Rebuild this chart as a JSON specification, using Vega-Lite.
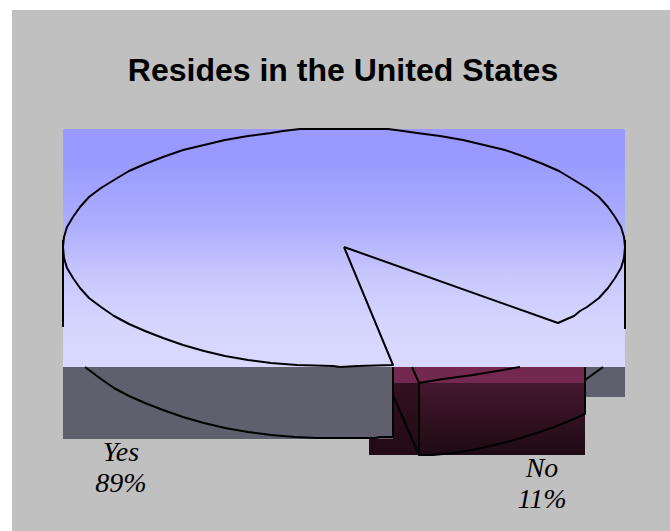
{
  "$schema": "https://vega.github.io/schema/vega-lite/v6.json",
  "width": 670,
  "height": 531,
  "padding": 0,
  "autosize": "none",
  "background": "#ffffff",
  "view": {"stroke": null},
  "title": {
    "text": "Resides in the United States",
    "font": "Liberation Sans",
    "fontSize": 32,
    "fontWeight": "bold",
    "color": "#000000",
    "anchor": "middle",
    "baseline": "alphabetic",
    "offset": -113,
    "dx": 8
  },
  "datasets": {
    "regions": [
      {"part": "panel", "x0": 12, "x1": 670, "y0": 10, "y1": 531},
      {"part": "plane", "x0": 63, "x1": 625, "y0": 129, "y1": 367},
      {"part": "wall", "x0": 63, "x1": 393, "y0": 367, "y1": 439},
      {"part": "wall", "x0": 585, "x1": 625, "y0": 367, "y1": 397},
      {"part": "rim", "x0": 393, "x1": 585, "y0": 367, "y1": 383},
      {"part": "side", "x0": 369, "x1": 419, "y0": 383, "y1": 455},
      {"part": "front", "x0": 419, "x1": 585, "y0": 383, "y1": 455}
    ],
    "outlines": [
      {"path": "top", "i": 1, "x": 344, "y": 247},
      {"path": "top", "i": 2, "x": 558, "y": 323},
      {"path": "top", "i": 3, "x": 567, "y": 319},
      {"path": "top", "i": 4, "x": 574, "y": 316},
      {"path": "top", "i": 5, "x": 580, "y": 311},
      {"path": "top", "i": 6, "x": 587, "y": 307},
      {"path": "top", "i": 7, "x": 599, "y": 298},
      {"path": "top", "i": 8, "x": 608, "y": 288},
      {"path": "top", "i": 9, "x": 615, "y": 278},
      {"path": "top", "i": 10, "x": 621, "y": 268},
      {"path": "top", "i": 11, "x": 624, "y": 258},
      {"path": "top", "i": 12, "x": 625, "y": 247},
      {"path": "top", "i": 13, "x": 624, "y": 237},
      {"path": "top", "i": 14, "x": 621, "y": 227},
      {"path": "top", "i": 15, "x": 615, "y": 217},
      {"path": "top", "i": 16, "x": 608, "y": 207},
      {"path": "top", "i": 17, "x": 599, "y": 197},
      {"path": "top", "i": 18, "x": 587, "y": 188},
      {"path": "top", "i": 19, "x": 574, "y": 180},
      {"path": "top", "i": 20, "x": 559, "y": 171},
      {"path": "top", "i": 21, "x": 543, "y": 164},
      {"path": "top", "i": 22, "x": 525, "y": 157},
      {"path": "top", "i": 23, "x": 505, "y": 150},
      {"path": "top", "i": 24, "x": 484, "y": 145},
      {"path": "top", "i": 25, "x": 463, "y": 140},
      {"path": "top", "i": 26, "x": 440, "y": 136},
      {"path": "top", "i": 27, "x": 417, "y": 133},
      {"path": "top", "i": 28, "x": 403, "y": 131},
      {"path": "top", "i": 29, "x": 388, "y": 129},
      {"path": "top", "i": 30, "x": 300, "y": 129},
      {"path": "top", "i": 31, "x": 283, "y": 131},
      {"path": "top", "i": 32, "x": 271, "y": 133},
      {"path": "top", "i": 33, "x": 248, "y": 136},
      {"path": "top", "i": 34, "x": 225, "y": 140},
      {"path": "top", "i": 35, "x": 204, "y": 145},
      {"path": "top", "i": 36, "x": 183, "y": 150},
      {"path": "top", "i": 37, "x": 163, "y": 157},
      {"path": "top", "i": 38, "x": 145, "y": 164},
      {"path": "top", "i": 39, "x": 129, "y": 171},
      {"path": "top", "i": 40, "x": 114, "y": 180},
      {"path": "top", "i": 41, "x": 101, "y": 188},
      {"path": "top", "i": 42, "x": 89, "y": 197},
      {"path": "top", "i": 43, "x": 80, "y": 207},
      {"path": "top", "i": 44, "x": 73, "y": 217},
      {"path": "top", "i": 45, "x": 67, "y": 227},
      {"path": "top", "i": 46, "x": 64, "y": 237},
      {"path": "top", "i": 47, "x": 63, "y": 247},
      {"path": "top", "i": 48, "x": 64, "y": 258},
      {"path": "top", "i": 49, "x": 67, "y": 268},
      {"path": "top", "i": 50, "x": 73, "y": 278},
      {"path": "top", "i": 51, "x": 80, "y": 288},
      {"path": "top", "i": 52, "x": 89, "y": 298},
      {"path": "top", "i": 53, "x": 101, "y": 307},
      {"path": "top", "i": 54, "x": 114, "y": 316},
      {"path": "top", "i": 55, "x": 129, "y": 324},
      {"path": "top", "i": 56, "x": 145, "y": 331},
      {"path": "top", "i": 57, "x": 163, "y": 338},
      {"path": "top", "i": 58, "x": 183, "y": 345},
      {"path": "top", "i": 59, "x": 204, "y": 351},
      {"path": "top", "i": 60, "x": 225, "y": 356},
      {"path": "top", "i": 61, "x": 248, "y": 360},
      {"path": "top", "i": 62, "x": 271, "y": 363},
      {"path": "top", "i": 63, "x": 297, "y": 365},
      {"path": "top", "i": 64, "x": 333, "y": 366},
      {"path": "top", "i": 65, "x": 340, "y": 367},
      {"path": "top", "i": 66, "x": 358, "y": 366},
      {"path": "top", "i": 67, "x": 393, "y": 365},
      {"path": "top", "i": 68, "x": 344, "y": 247},
      {"path": "base", "i": 1, "x": 85, "y": 367},
      {"path": "base", "i": 2, "x": 101, "y": 379},
      {"path": "base", "i": 3, "x": 114, "y": 388},
      {"path": "base", "i": 4, "x": 129, "y": 396},
      {"path": "base", "i": 5, "x": 145, "y": 403},
      {"path": "base", "i": 6, "x": 163, "y": 410},
      {"path": "base", "i": 7, "x": 183, "y": 417},
      {"path": "base", "i": 8, "x": 204, "y": 423},
      {"path": "base", "i": 9, "x": 225, "y": 428},
      {"path": "base", "i": 10, "x": 248, "y": 432},
      {"path": "base", "i": 11, "x": 271, "y": 435},
      {"path": "base", "i": 12, "x": 295, "y": 437},
      {"path": "base", "i": 13, "x": 317, "y": 438},
      {"path": "base", "i": 14, "x": 375, "y": 438},
      {"path": "base", "i": 15, "x": 380, "y": 437},
      {"path": "base", "i": 16, "x": 393, "y": 437},
      {"path": "base", "i": 17, "x": 393, "y": 367},
      {"path": "left", "i": 1, "x": 63, "y": 240},
      {"path": "left", "i": 2, "x": 63, "y": 327},
      {"path": "right", "i": 1, "x": 625, "y": 240},
      {"path": "right", "i": 2, "x": 625, "y": 329},
      {"path": "edge", "i": 1, "x": 412, "y": 367},
      {"path": "edge", "i": 2, "x": 419, "y": 383},
      {"path": "edge", "i": 3, "x": 419, "y": 455},
      {"path": "edge", "i": 4, "x": 393, "y": 395},
      {"path": "rimarc", "i": 1, "x": 419, "y": 383},
      {"path": "rimarc", "i": 2, "x": 431, "y": 381},
      {"path": "rimarc", "i": 3, "x": 443, "y": 379},
      {"path": "rimarc", "i": 4, "x": 458, "y": 377},
      {"path": "rimarc", "i": 5, "x": 473, "y": 375},
      {"path": "rimarc", "i": 6, "x": 497, "y": 371},
      {"path": "rimarc", "i": 7, "x": 520, "y": 367},
      {"path": "frontarc", "i": 1, "x": 419, "y": 455},
      {"path": "frontarc", "i": 2, "x": 433, "y": 455},
      {"path": "frontarc", "i": 3, "x": 453, "y": 453},
      {"path": "frontarc", "i": 4, "x": 473, "y": 450},
      {"path": "frontarc", "i": 5, "x": 490, "y": 446},
      {"path": "frontarc", "i": 6, "x": 507, "y": 442},
      {"path": "frontarc", "i": 7, "x": 524, "y": 437},
      {"path": "frontarc", "i": 8, "x": 540, "y": 432},
      {"path": "frontarc", "i": 9, "x": 554, "y": 427},
      {"path": "frontarc", "i": 10, "x": 567, "y": 422},
      {"path": "frontarc", "i": 11, "x": 585, "y": 414},
      {"path": "frontarc", "i": 12, "x": 585, "y": 367},
      {"path": "tail", "i": 1, "x": 585, "y": 380},
      {"path": "tail", "i": 2, "x": 603, "y": 367}
    ],
    "labels": [
      {"text": "Yes", "x": 121, "y": 461},
      {"text": "89%", "x": 121, "y": 492},
      {"text": "No", "x": 542, "y": 477},
      {"text": "11%", "x": 542, "y": 508}
    ]
  },
  "encoding": {
    "x": {"field": "x", "type": "quantitative", "scale": {"domain": [0, 670], "nice": false, "zero": false}, "axis": null},
    "y": {"field": "y", "type": "quantitative", "scale": {"domain": [531, 0], "nice": false, "zero": false}, "axis": null}
  },
  "layer": [
    {
      "data": {"name": "regions"},
      "transform": [{"filter": "datum.part === 'panel'"}],
      "mark": {"type": "rect", "fill": "#c0c0c0"},
      "encoding": {"x": {"field": "x0", "type": "quantitative", "scale": {"domain": [0, 670], "nice": false, "zero": false}, "axis": null}, "x2": {"field": "x1"}, "y": {"field": "y0", "type": "quantitative", "scale": {"domain": [531, 0], "nice": false, "zero": false}, "axis": null}, "y2": {"field": "y1"}}
    },
    {
      "data": {"name": "regions"},
      "transform": [{"filter": "datum.part === 'side'"}],
      "mark": {"type": "rect", "fill": {"gradient": "linear", "x1": 0, "y1": 0, "x2": 0, "y2": 1, "stops": [{"offset": 0, "color": "#33101f"}, {"offset": 1, "color": "#220a15"}]}},
      "encoding": {"x": {"field": "x0", "type": "quantitative", "axis": null}, "x2": {"field": "x1"}, "y": {"field": "y0", "type": "quantitative", "axis": null}, "y2": {"field": "y1"}}
    },
    {
      "data": {"name": "regions"},
      "transform": [{"filter": "datum.part === 'wall'"}],
      "mark": {"type": "rect", "fill": "#5f5f6e"},
      "encoding": {"x": {"field": "x0", "type": "quantitative", "axis": null}, "x2": {"field": "x1"}, "y": {"field": "y0", "type": "quantitative", "axis": null}, "y2": {"field": "y1"}}
    },
    {
      "data": {"name": "regions"},
      "transform": [{"filter": "datum.part === 'front'"}],
      "mark": {"type": "rect", "fill": {"gradient": "linear", "x1": 0, "y1": 0, "x2": 0, "y2": 1, "stops": [{"offset": 0, "color": "#45182f"}, {"offset": 1, "color": "#1e0a13"}]}},
      "encoding": {"x": {"field": "x0", "type": "quantitative", "axis": null}, "x2": {"field": "x1"}, "y": {"field": "y0", "type": "quantitative", "axis": null}, "y2": {"field": "y1"}}
    },
    {
      "data": {"name": "regions"},
      "transform": [{"filter": "datum.part === 'rim'"}],
      "mark": {"type": "rect", "fill": "#73284f"},
      "encoding": {"x": {"field": "x0", "type": "quantitative", "axis": null}, "x2": {"field": "x1"}, "y": {"field": "y0", "type": "quantitative", "axis": null}, "y2": {"field": "y1"}}
    },
    {
      "data": {"name": "regions"},
      "transform": [{"filter": "datum.part === 'plane'"}],
      "mark": {"type": "rect", "fill": {"gradient": "linear", "x1": 0, "y1": 0, "x2": 0, "y2": 1, "stops": [{"offset": 0, "color": "#9999ff"}, {"offset": 0.12, "color": "#9999ff"}, {"offset": 0.4, "color": "#adadff"}, {"offset": 0.62, "color": "#c8c8ff"}, {"offset": 0.8, "color": "#d4d4ff"}, {"offset": 1, "color": "#d9d9ff"}]}},
      "encoding": {"x": {"field": "x0", "type": "quantitative", "axis": null}, "x2": {"field": "x1"}, "y": {"field": "y0", "type": "quantitative", "axis": null}, "y2": {"field": "y1"}}
    },
    {
      "data": {"name": "outlines"},
      "mark": {"type": "line", "stroke": "#000000", "strokeWidth": 2, "strokeJoin": "round", "clip": false},
      "encoding": {"detail": {"field": "path"}, "order": {"field": "i", "type": "quantitative"}}
    },
    {
      "data": {"name": "labels"},
      "mark": {"type": "text", "font": "Liberation Serif", "fontStyle": "italic", "fontSize": 28, "align": "center", "baseline": "alphabetic", "color": "#000000"},
      "encoding": {"text": {"field": "text"}}
    }
  ]
}
